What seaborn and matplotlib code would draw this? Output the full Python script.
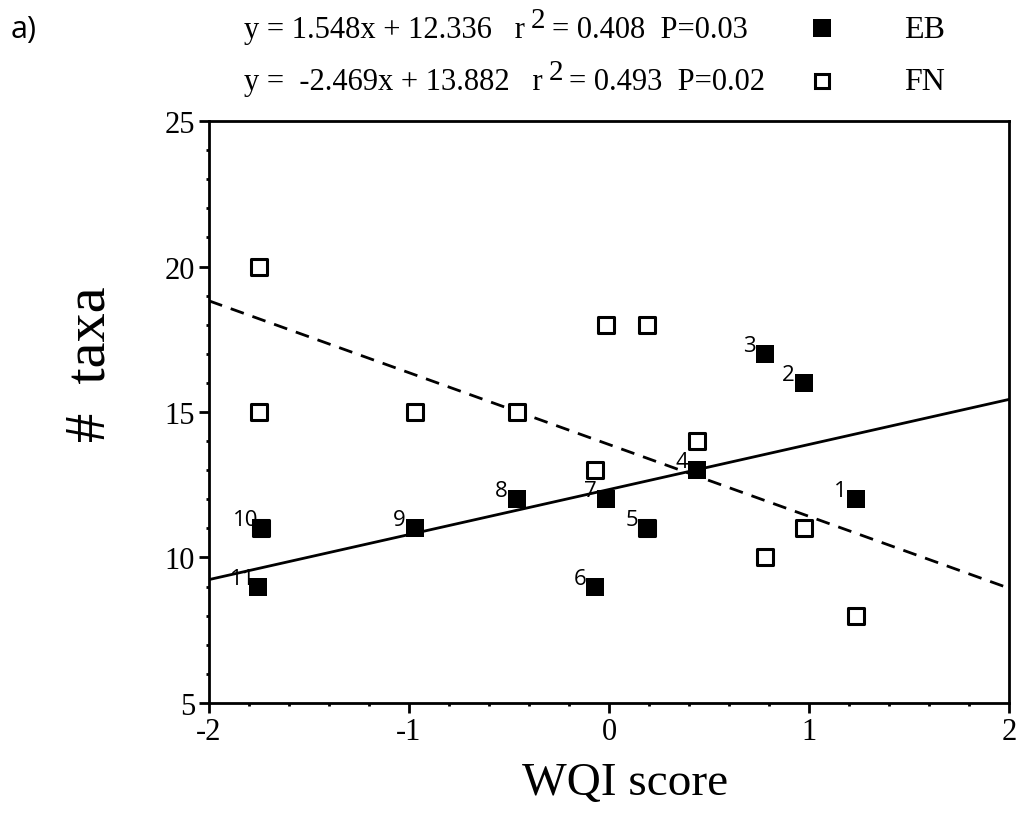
import numpy as np
import pandas as pd
import matplotlib
matplotlib.use('Agg')
import matplotlib.pyplot as plt
import seaborn as sns
from matplotlib.ticker import MultipleLocator

# WQI score and number of taxa per site
site = [1, 2, 3, 4, 5, 6, 7, 8, 9, 10, 11]
eb_wqi = [1.235, 0.975, 0.78, 0.44, 0.19, -0.07, -0.015, -0.46, -0.97, -1.74, -1.755]
eb_taxa = [12, 16, 17, 13, 11, 9, 12, 12, 11, 11, 9]

fn_wqi = [1.235, 0.975, 0.78, 0.44, 0.19, 0.19, -0.07, -0.015, -0.46, -0.97, -1.74, -1.75, -1.75]
fn_taxa = [8, 11, 10, 14, 11, 18, 13, 18, 15, 15, 11, 15, 20]

# regression lines (slope, intercept) as given in the header
eb_fit = (1.548, 12.336)
fn_fit = (-2.469, 13.882)

eb = pd.DataFrame({'wqi': eb_wqi, 'taxa': eb_taxa, 'site': site})
fn = pd.DataFrame({'wqi': fn_wqi, 'taxa': fn_taxa})

sns.set_style("ticks")
plt.rcParams['font.family'] = ['Liberation Serif', 'DejaVu Serif']
plt.rcParams['axes.unicode_minus'] = False
plt.rcParams['text.color'] = 'black'
plt.rcParams['axes.labelcolor'] = 'black'
plt.rcParams['xtick.color'] = 'black'
plt.rcParams['ytick.color'] = 'black'

fig = plt.figure(figsize=(10.23, 8.2), dpi=100)
ax = fig.add_axes([0.2043, 0.1415, 0.782, 0.7097])

# fitted lines across the axis range
xr = np.array([-2, 2])
ax.plot(xr, eb_fit[0] * xr + eb_fit[1], color='black', lw=2, zorder=2)
ax.plot(xr, fn_fit[0] * xr + fn_fit[1], color='black', lw=2, ls=(0, (5, 3.3)), zorder=2)

sns.scatterplot(data=fn, x='wqi', y='taxa', marker='s', s=117, facecolor='white',
                edgecolor='black', linewidth=2.2, ax=ax, zorder=3)
sns.scatterplot(data=eb, x='wqi', y='taxa', marker='s', s=169, color='black',
                linewidth=0, ax=ax, zorder=5)

for _, r in eb.iterrows():
    ax.annotate(str(int(r['site'])), (r['wqi'], r['taxa']), xytext=(-11, 2.2),
                textcoords='offset points', ha='center', va='baseline',
                fontsize=16, family='Open Sans', zorder=4)

ax.set_xlim(-2, 2)
ax.set_ylim(5, 25)
ax.xaxis.set_major_locator(MultipleLocator(1))
ax.xaxis.set_minor_locator(MultipleLocator(0.2))
ax.yaxis.set_major_locator(MultipleLocator(5))
ax.yaxis.set_minor_locator(MultipleLocator(1))
ax.tick_params(which='major', direction='out', length=7, width=2, labelsize=22, pad=3)
ax.tick_params(which='minor', direction='out', length=2.5, width=2)
for sp in ax.spines.values():
    sp.set_linewidth(2)
    sp.set_color('black')

ax.set_xlabel('WQI score', fontsize=34, color='black')
ax.xaxis.set_label_coords(0.52, -0.10)
ax.set_ylabel('')
fig.text(0.088, 0.5555, '#  taxa', fontsize=42, rotation=90, ha='center', va='center')

# header with equations and legend
fig.text(0.01, 0.963, 'a)', fontsize=22, family='Open Sans', va='center')

renderer = fig.canvas.get_renderer()
W = fig.bbox.width


def header_line(y, left, right):
    t1 = fig.text(0.2385, y, left, fontsize=22, va='center')
    x = t1.get_window_extent(renderer).x1 / W + 0.006
    t2 = fig.text(x, y + 0.012, '2', fontsize=21, va='center')
    x = t2.get_window_extent(renderer).x1 / W + 0.006
    fig.text(x, y, right, fontsize=22, va='center')


header_line(0.963, 'y = 1.548x + 12.336   r', '= 0.408  P=0.03')
header_line(0.899, 'y =  -2.469x + 13.882   r', '= 0.493  P=0.02')
fig.text(0.884, 0.963, 'EB', fontsize=23, va='center')
fig.text(0.884, 0.899, 'FN', fontsize=23, va='center')
fig.lines.append(plt.Line2D([0.8035], [0.965], marker='s', ms=13, color='black',
                            mew=0, transform=fig.transFigure))
fig.lines.append(plt.Line2D([0.8035], [0.900], marker='s', ms=10, mfc='white', mec='black',
                            mew=2.2, transform=fig.transFigure))

plt.savefig('out.png', dpi=100)
